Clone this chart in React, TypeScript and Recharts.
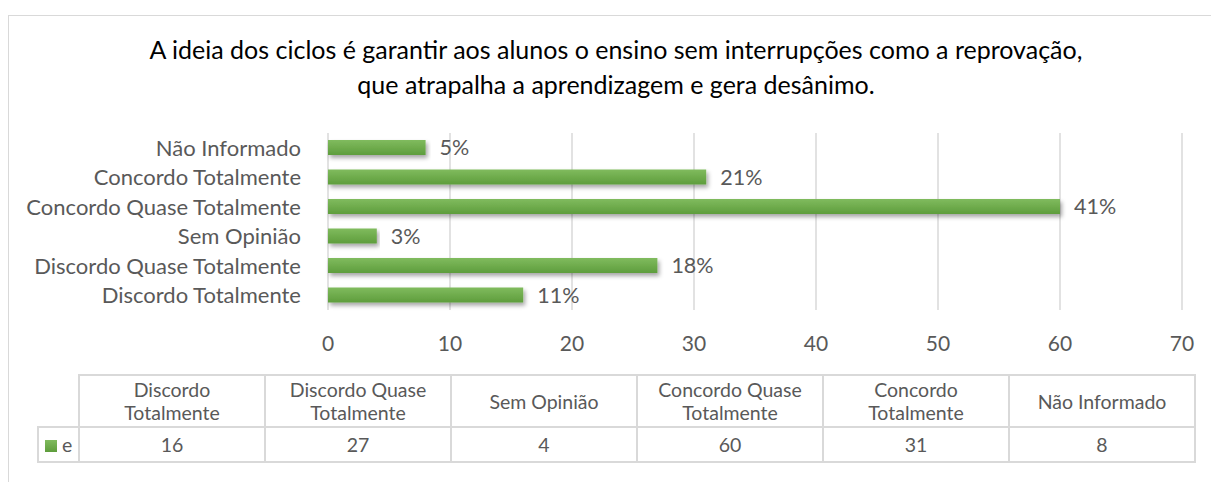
import React from 'react'
import { BarChart, Bar, XAxis, YAxis, CartesianGrid, LabelList } from 'recharts'

const title = [
  'A ideia dos ciclos é garantir aos alunos o ensino sem interrupções como a reprovação,',
  'que atrapalha a aprendizagem e gera desânimo.',
]
const categories = [
  'Discordo Totalmente',
  'Discordo Quase Totalmente',
  'Sem Opinião',
  'Concordo Quase Totalmente',
  'Concordo Totalmente',
  'Não Informado',
]
const tableHeaders = [
  ['Discordo', 'Totalmente'],
  ['Discordo Quase', 'Totalmente'],
  ['Sem Opinião'],
  ['Concordo Quase', 'Totalmente'],
  ['Concordo', 'Totalmente'],
  ['Não Informado'],
]
const values = [16, 27, 4, 60, 31, 8]
const percentLabels = ['11%', '18%', '3%', '41%', '21%', '5%']
const seriesName = 'e'
const xTicks = [0, 10, 20, 30, 40, 50, 60, 70]

const FONT = 'Lato, "Open Sans", sans-serif'
const TEXT = '#595959'
const GRID = '#d9d9d9'

const chartData = categories.map((c, i) => ({
  name: c,
  value: values[i],
  label: percentLabels[i],
}))

const cellBorder = `2px solid ${GRID}`

export default function App() {
  return (
    <div
      style={{
        position: 'fixed',
        left: 0,
        top: 0,
        width: 1211,
        height: 482,
        background: '#fff',
        fontFamily: FONT,
        overflow: 'hidden',
      }}
    >
      <div
        style={{
          position: 'absolute',
          left: 8,
          top: 15,
          width: 1203,
          height: 467,
          borderTop: `1px solid ${GRID}`,
          borderLeft: `1px solid ${GRID}`,
        }}
      />
      <div
        style={{
          position: 'absolute',
          left: 0,
          top: 32,
          width: 1232,
          textAlign: 'center',
          fontSize: 25,
          lineHeight: '35px',
          color: '#000',
        }}
      >
        {title.map((t) => (
          <div key={t}>{t}</div>
        ))}
      </div>
      <div style={{ position: 'absolute', left: 0, top: 0 }}>
        <BarChart
          width={1211}
          height={482}
          data={chartData}
          layout="vertical"
          margin={{ top: 133, right: 29, bottom: 132, left: 0 }}
          barCategoryGap={0}
        >
          <defs>
            <linearGradient id="barGrad" x1="0" y1="0" x2="0" y2="1">
              <stop offset="0%" stopColor="#80bb5e" />
              <stop offset="100%" stopColor="#5e9d3c" />
            </linearGradient>
            <filter id="barShadow" x="-5%" y="-50%" width="110%" height="220%">
              <feDropShadow dx="2" dy="3" stdDeviation="2" floodColor="#000" floodOpacity="0.35" />
            </filter>
          </defs>
          <CartesianGrid horizontal={false} stroke={GRID} strokeWidth={1.5} />
          <XAxis
            type="number"
            domain={[0, 70]}
            ticks={xTicks}
            interval={0}
            axisLine={false}
            tickLine={false}
            height={40}
            tickMargin={20}
            tick={{ fill: TEXT, fontSize: 21, fontFamily: FONT }}
          />
          <YAxis
            type="category"
            dataKey="name"
            reversed
            interval={0}
            width={328}
            axisLine={false}
            tickLine={false}
            tick={{ fill: TEXT, fontSize: 22, fontFamily: FONT, dx: -19 }}
          />
          <Bar
            dataKey="value"
            barSize={15}
            fill="url(#barGrad)"
            filter="url(#barShadow)"
            isAnimationActive={false}
          >
            <LabelList
              dataKey="label"
              position="right"
              offset={14}
              fill={TEXT}
              fontSize={21.5}
              fontFamily={FONT}
            />
          </Bar>
        </BarChart>
      </div>
      <table
        style={{
          position: 'absolute',
          left: 37,
          top: 374,
          borderCollapse: 'collapse',
          fontSize: 19.5,
          color: TEXT,
          fontFamily: FONT,
          tableLayout: 'fixed',
        }}
      >
        <tbody>
          <tr style={{ height: 52 }}>
            <td style={{ width: 38, border: 'none' }} />
            {tableHeaders.map((h, i) => (
              <td
                key={i}
                style={{
                  width: 184,
                  border: cellBorder,
                  textAlign: 'center',
                  lineHeight: '23px',
                  padding: 0,
                }}
              >
                {h.map((l) => (
                  <div key={l}>{l}</div>
                ))}
              </td>
            ))}
          </tr>
          <tr style={{ height: 35 }}>
            <td style={{ border: cellBorder, padding: '0 0 0 6px', whiteSpace: 'nowrap' }}>
              <span
                style={{
                  display: 'inline-block',
                  width: 12,
                  height: 12,
                  background: 'linear-gradient(#80bb5e, #5e9d3c)',
                  marginRight: 5,
                  verticalAlign: 0,
                }}
              />
              {seriesName}
            </td>
            {values.map((v, i) => (
              <td key={i} style={{ border: cellBorder, textAlign: 'center', padding: 0 }}>
                {v}
              </td>
            ))}
          </tr>
        </tbody>
      </table>
    </div>
  )
}
